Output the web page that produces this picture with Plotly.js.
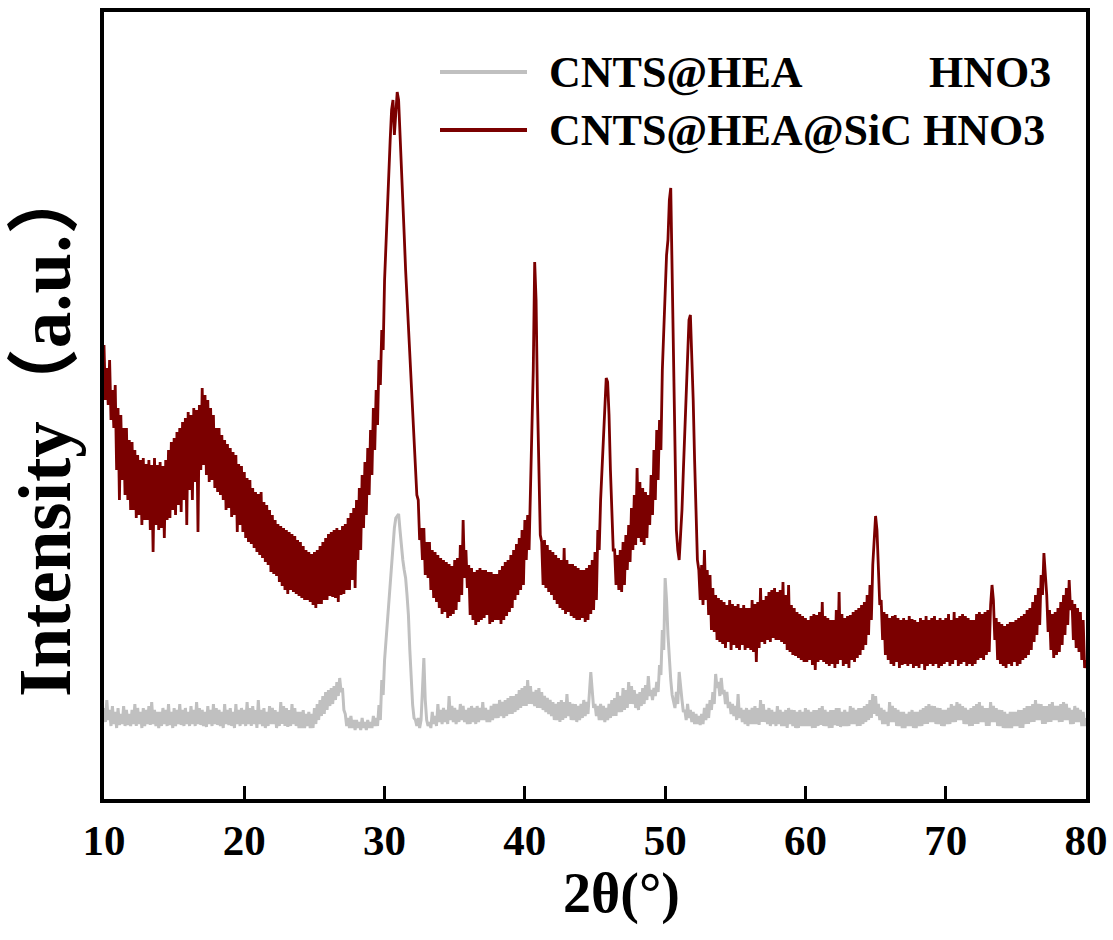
<!DOCTYPE html>
<html>
<head>
<meta charset="utf-8">
<script src="https://cdn.plot.ly/plotly-3.0.1.min.js"></script>
<style>
  html, body { margin: 0; padding: 0; background: #ffffff; }
  #chart { width: 1113px; height: 940px; }
</style>
</head>
<body>
<div id="chart"></div>
<script>
// 2θ sampling of the digitised patterns
const startAngle = 10;
const stepAngle = 0.1;

const seriesNames = ['CNTS@HEA HNO3', 'CNTS@HEA@SiC HNO3'];
const seriesColors = ['#c0c0c0', '#7b0000'];

// CNTS@HEA HNO3 (grey), 10.0° ... 80.0° every 0.1° (one row = 2°)
const grayIntensity = [
  92,78,100,80,90,74,94,76,88,72,92,75,86,76,94,74,90,75,86,74,
  90,76,96,74,92,76,88,72,92,74,90,76,94,75,98,76,90,74,88,72,
  88,74,92,76,90,74,96,75,88,72,92,74,90,76,96,75,90,74,92,76,
  88,74,94,76,90,74,98,76,92,75,90,74,88,73,94,76,90,74,96,76,
  92,75,90,74,88,72,96,76,90,75,92,74,88,72,96,76,90,74,92,76,
  90,74,98,76,92,74,94,76,90,72,100,76,90,74,92,72,88,74,94,76,
  92,76,90,72,88,74,98,76,94,74,92,73,90,74,96,76,92,74,88,72,
  88,72,90,72,86,74,88,72,86,72,92,76,96,80,100,84,104,86,108,90,
  110,94,112,96,114,100,118,104,122,108,112,90,86,74,82,72,84,72,80,70,
  80,72,78,70,82,72,78,70,80,72,78,72,84,74,82,74,95,80,120,105,
  140,160,180,200,220,240,262,272,282,284,286,270,250,240,230,222,205,185,150,120,
  95,82,80,74,82,72,80,110,142,100,80,74,78,72,88,76,84,74,96,78,
  90,76,92,78,90,76,104,80,94,78,92,76,90,78,96,80,94,78,90,76,
  92,76,94,78,92,76,94,78,92,80,98,80,92,78,90,78,94,80,96,82,
  96,82,100,84,98,82,100,84,102,86,104,86,104,88,106,90,110,92,112,94,
  114,94,120,96,114,96,108,94,110,92,112,92,108,90,104,88,102,86,100,84,
  98,80,96,80,98,78,100,80,98,82,106,84,98,80,96,80,96,78,94,80,
  96,82,100,84,98,86,112,128,110,92,96,84,94,80,96,80,94,78,92,80,
  96,82,100,84,102,84,108,88,104,88,112,90,110,92,118,96,114,96,110,92,
  106,90,108,94,112,96,115,100,124,104,110,100,112,104,118,108,135,125,170,150,
  222,200,165,140,120,105,98,92,108,96,128,110,100,88,90,80,96,82,90,78,
  88,76,86,76,84,75,86,76,92,80,96,82,100,90,108,96,126,112,118,104,
  122,106,110,96,108,92,98,86,96,84,94,80,106,82,92,78,90,76,92,74,
  90,76,92,76,94,76,92,75,100,78,96,78,90,76,92,74,90,76,88,74,
  94,76,90,74,88,74,90,72,92,76,90,74,90,72,88,72,90,74,88,74,
  92,74,90,74,88,72,90,72,90,74,92,75,94,74,90,74,88,72,90,72,
  90,75,92,74,92,73,88,74,90,74,88,74,94,76,92,76,90,74,92,74,
  92,76,94,78,96,80,100,82,106,86,104,84,96,80,92,76,90,76,88,74,
  98,78,94,78,92,74,90,74,88,72,88,72,86,74,88,74,90,72,88,72,
  88,74,90,74,92,76,94,76,96,78,94,78,94,76,92,76,92,74,90,74,
  90,76,92,76,96,78,94,78,98,80,96,80,94,76,92,76,90,74,92,74,
  94,76,96,76,98,78,94,78,92,74,92,74,98,78,94,78,92,74,90,74,
  90,72,88,72,86,72,88,72,88,74,88,74,90,72,90,72,92,76,94,76,
  94,78,96,78,100,80,96,80,96,76,94,76,94,78,96,78,98,80,94,80,
  94,78,96,78,98,80,96,80,92,76,90,76,94,78,92,78,90,74,88,74,
  82
];

// CNTS@HEA@SiC HNO3 (dark red), 10.0° ... 80.0° every 0.1° (one row = 2°)
const redIntensity = [
  455,400,432,395,440,380,410,372,415,330,392,300,385,320,372,305,372,300,360,290,
  358,290,350,282,345,285,340,275,342,280,336,280,340,270,335,248,342,275,335,270,
  338,272,334,262,340,280,350,282,358,290,362,285,368,295,372,288,378,300,382,275,
  388,310,385,300,392,318,390,268,395,330,412,335,405,325,400,318,392,320,385,312,
  372,308,372,305,365,300,360,290,356,292,352,283,348,285,345,268,336,275,334,268,
  328,262,322,258,320,256,312,252,308,248,306,245,308,242,298,238,295,235,290,228,
  285,226,280,224,276,218,274,214,272,210,270,206,268,210,266,208,264,206,260,204,
  258,202,254,200,250,200,248,198,246,195,248,192,250,196,254,196,258,200,262,200,
  266,204,268,203,270,202,272,198,270,205,274,206,276,210,282,210,287,220,292,212,
  300,240,312,250,325,272,338,285,352,305,370,325,392,350,410,375,440,415,470,450,
  520,560,600,630,660,690,700,665,690,708,700,670,640,600,565,530,500,470,440,412,
  385,355,330,305,300,260,272,240,272,225,258,222,258,210,250,202,248,198,245,192,
  242,186,240,188,238,182,236,184,234,186,240,190,242,198,255,205,280,222,250,212,
  235,185,232,180,228,175,230,178,232,180,230,182,230,185,228,176,228,178,226,180,
  226,180,230,176,234,180,238,184,240,188,245,192,250,200,256,205,262,210,270,215,
  280,240,285,250,310,360,430,538,500,400,320,265,258,215,260,212,255,208,250,205,
  248,200,245,196,242,192,240,190,252,186,240,188,236,184,236,182,234,180,232,180,
  230,182,230,178,232,180,235,186,240,190,248,200,270,250,300,330,360,400,422,418,
  385,330,290,250,250,215,245,210,250,208,258,215,265,230,275,238,292,250,305,255,
  332,262,318,258,312,255,308,262,305,275,325,285,350,300,370,320,380,350,430,470,
  520,545,560,600,612,520,420,320,270,250,240,265,290,330,370,410,450,480,485,450,
  400,340,285,240,230,200,235,195,250,200,230,185,225,170,212,168,205,160,202,158,
  200,156,198,152,195,158,200,150,196,155,194,152,196,150,192,155,195,150,192,152,
  192,150,200,148,196,138,198,152,212,158,200,156,204,160,208,158,210,162,212,160,
  208,160,210,158,218,156,205,150,215,148,195,145,192,144,188,142,186,140,184,138,
  182,138,180,140,184,135,186,130,185,138,188,140,198,138,184,136,182,134,180,136,
  180,132,190,136,208,140,186,134,182,136,184,132,185,140,188,138,190,142,192,145,
  195,150,198,155,205,165,215,180,235,255,284,270,230,195,200,160,188,145,186,140,
  182,136,184,134,185,138,182,132,180,135,182,136,180,134,184,136,181,132,180,134,
  178,132,182,136,180,130,184,134,180,136,182,134,184,136,180,132,182,134,180,136,
  182,138,186,134,180,136,188,140,182,134,184,136,186,138,184,134,182,136,180,134,
  180,136,186,140,188,142,186,140,188,145,190,148,195,215,200,160,182,140,178,136,
  176,134,174,132,176,136,178,134,178,138,180,134,182,136,184,140,186,142,190,145,
  192,150,198,158,205,165,212,175,225,205,247,230,205,168,190,150,186,142,188,145,
  192,148,198,155,205,165,212,175,220,190,200,160,196,152,192,148,188,140,180,132,
  140
];

const xTickVals = [10, 20, 30, 40, 50, 60, 70, 80];
const xTickText = ['10', '20', '30', '40', '50', '60', '70', '80'];
const xRange = [10, 80];
const yRange = [1, 788];

const serif = 'Times New Roman, Liberation Serif, Noto Sans CJK SC, serif';

const traces = [
  {
    type: 'scatter', mode: 'lines', name: seriesNames[0],
    x0: startAngle, dx: stepAngle, y: grayIntensity,
    line: { color: seriesColors[0], width: 3 },
    showlegend: false, hoverinfo: 'skip'
  },
  {
    type: 'scatter', mode: 'lines', name: seriesNames[1],
    x0: startAngle, dx: stepAngle, y: redIntensity,
    line: { color: seriesColors[1], width: 2.8 },
    showlegend: false, hoverinfo: 'skip'
  }
];

const plotL = 104, plotR = 27, plotT = 12, plotB = 141;
const plotW = 1113 - plotL - plotR, plotH = 940 - plotT - plotB;
const px2x = p => (p - plotL) / plotW;
const py2y = p => (940 - plotB - p) / plotH;

const legendFont = { family: serif, size: 44, color: '#000', weight: 'bold' };

const layout = {
  width: 1113, height: 940,
  margin: { l: plotL, r: plotR, t: plotT, b: plotB, pad: 0 },
  paper_bgcolor: '#ffffff', plot_bgcolor: '#ffffff',
  showlegend: false,
  xaxis: {
    range: xRange, tickvals: xTickVals, ticktext: xTickText,
    ticks: 'inside', ticklen: 13, tickwidth: 3, tickcolor: '#000',
    showline: true, linewidth: 4, linecolor: '#000', mirror: true,
    showgrid: false, zeroline: false,
    tickfont: { family: serif, size: 43, color: '#000', weight: 'bold' },
    ticklabelstandoff: 0,
    automargin: false
  },
  yaxis: {
    range: yRange, showticklabels: false, ticks: '',
    showline: true, linewidth: 4, linecolor: '#000', mirror: true,
    showgrid: false, zeroline: false, automargin: false
  },
  shapes: [
    { type: 'line', xref: 'paper', yref: 'paper', x0: px2x(440), x1: px2x(527), y0: py2y(72), y1: py2y(72),
      line: { color: seriesColors[0], width: 4 } },
    { type: 'line', xref: 'paper', yref: 'paper', x0: px2x(440), x1: px2x(527), y0: py2y(130), y1: py2y(130),
      line: { color: seriesColors[1], width: 4 } }
  ],
  annotations: [
    { xref: 'paper', yref: 'paper', x: px2x(547), y: py2y(72), xanchor: 'left', yanchor: 'middle',
      text: 'CNTS@HEA', showarrow: false, font: legendFont },
    { xref: 'paper', yref: 'paper', x: px2x(1053), y: py2y(72), xanchor: 'right', yanchor: 'middle',
      text: 'HNO3', showarrow: false, font: legendFont },
    { xref: 'paper', yref: 'paper', x: px2x(547), y: py2y(130), xanchor: 'left', yanchor: 'middle',
      text: 'CNTS@HEA@SiC HNO3', showarrow: false, font: legendFont },
    { xref: 'paper', yref: 'paper', x: px2x(621), y: py2y(893), xanchor: 'center', yanchor: 'middle',
      text: '2θ(°)', showarrow: false, font: { family: serif, size: 56, color: '#000', weight: 'bold' } },
    { xref: 'paper', yref: 'paper', x: px2x(46), y: py2y(430), xanchor: 'center', yanchor: 'middle',
      textangle: -90, text: 'Intensity（a.u.）', showarrow: false,
      font: { family: serif, size: 73, color: '#000', weight: 'bold' } }
  ]
};

Plotly.newPlot('chart', traces, layout, { displayModeBar: false, staticPlot: true });
</script>
</body>
</html>
